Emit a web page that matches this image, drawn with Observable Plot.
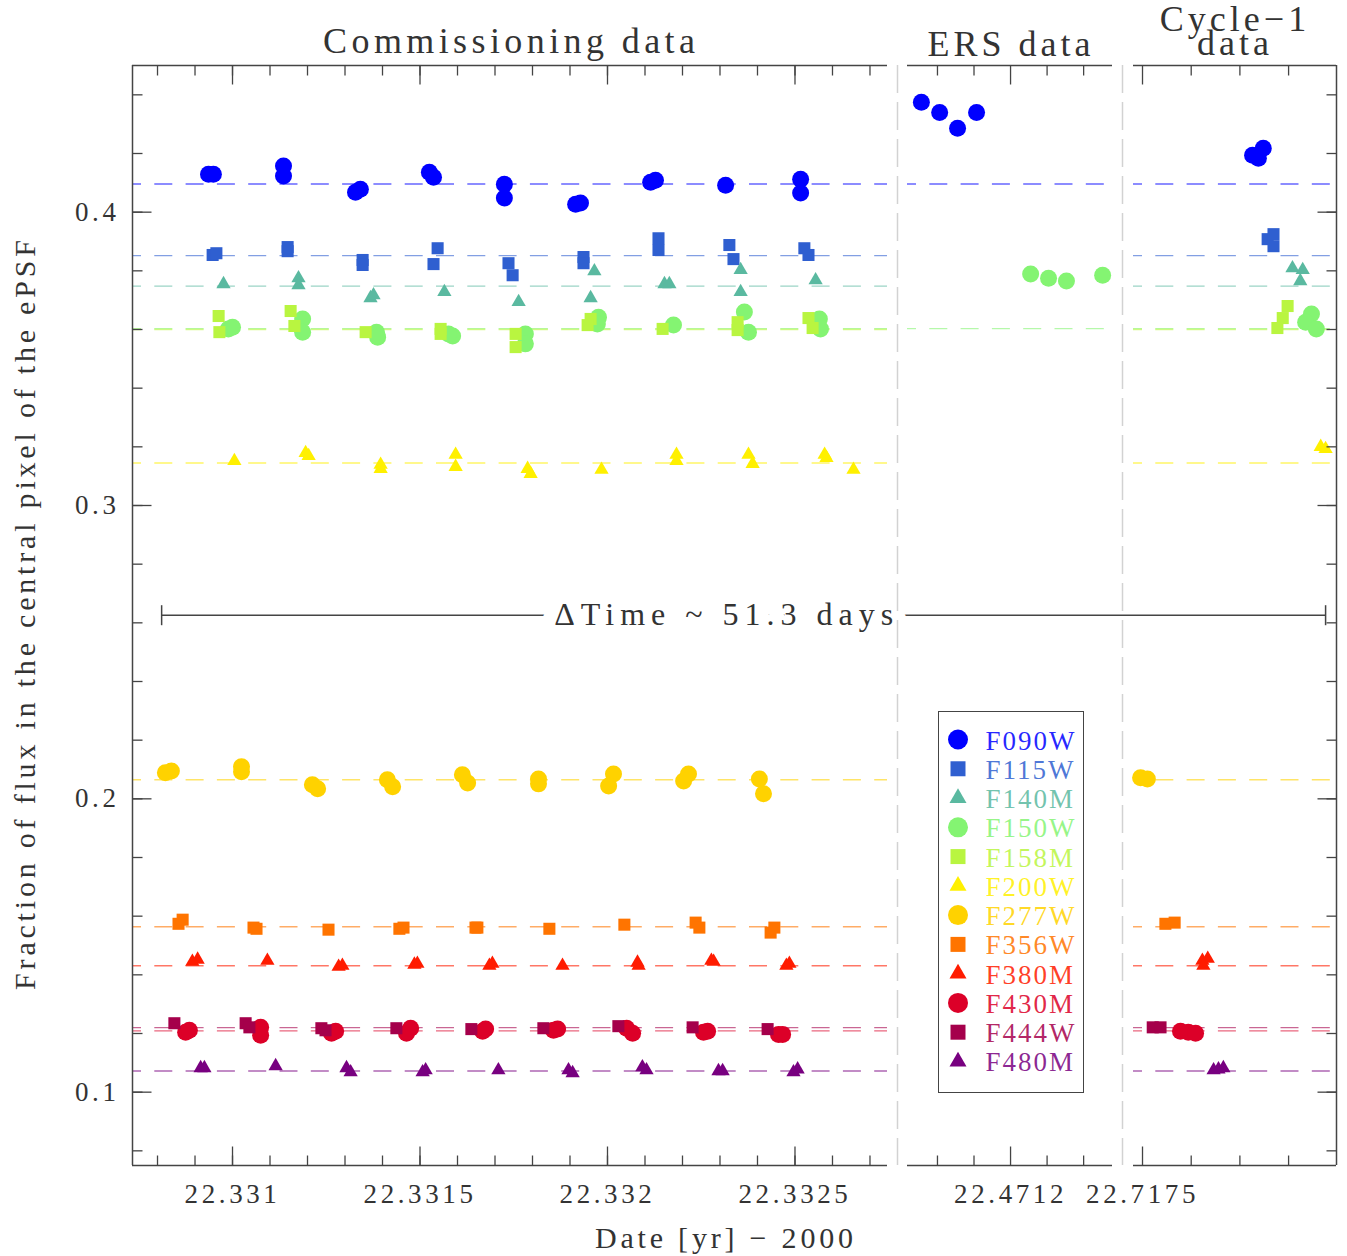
<!DOCTYPE html>
<html><head><meta charset="utf-8">
<script src="https://cdn.jsdelivr.net/npm/d3@7"></script>
<script src="https://cdn.jsdelivr.net/npm/@observablehq/plot@0.6"></script>
<style>
body{margin:0;background:#fff;}
#wrap{position:relative;width:1347px;height:1256px;overflow:hidden;background:#fff;}
.t{position:absolute;white-space:pre;font-family:"Liberation Serif",serif;color:#333;text-align:center;}
</style></head><body><div id="wrap"></div>
<script>
// ---------- data ----------
const filters = ["F090W","F115W","F140M","F150W","F158M","F200W","F277W","F356W","F380M","F430M","F444W","F480M"];
const filterColors = ["#0000ff","#2f5fd0","#5ab9a0","#84f472","#b9f540","#fff000","#ffd200","#ff7400","#ff1c00","#dc0028","#a5004b","#780080"];
const filterSymbols = ["circle","square","triangle","circle","square","triangle","circle","square","triangle","circle","square","triangle"];
const refLevels = [0.4096,0.3852,0.3748,0.3603,0.3600,0.3145,0.2065,0.1564,0.1431,0.1209,0.1220,0.1072];

const f090w = [[22.330936,0.4129],[22.330949,0.4129],[22.331136,0.4157],[22.331136,0.4123],[22.331328,0.4068],[22.331341,0.4078],[22.331525,0.4136],[22.331536,0.4119],[22.331725,0.4095],[22.331725,0.4048],[22.331915,0.4027],[22.331928,0.4031],[22.332115,0.4102],[22.332128,0.4109],[22.332315,0.4092],[22.332515,0.4112],[22.332515,0.4065],
  [22.470956,0.4375],[22.471006,0.4340],[22.471055,0.4286],[22.471107,0.4340],
  [22.717726,0.4194],[22.717738,0.4184],[22.717748,0.4218]];
const f115w = [[22.330947,0.3854],[22.330957,0.3860],[22.331147,0.3881],[22.331147,0.3867],[22.331347,0.3837],[22.331347,0.3820],[22.331547,0.3877],[22.331536,0.3823],[22.331736,0.3826],[22.331747,0.3785],[22.331936,0.3847],[22.331936,0.3826],[22.332136,0.3911],[22.332136,0.3871],[22.332325,0.3888],[22.332336,0.3840],[22.332525,0.3877],[22.332536,0.3854],
  [22.717757,0.3908],[22.717769,0.3925],[22.717769,0.3884]];
const f140m = [[22.330976,0.3755],[22.331176,0.3775],[22.331176,0.3751],[22.331368,0.3707],[22.331376,0.3717],[22.331565,0.3728],[22.331763,0.3694],[22.331965,0.3799],[22.331955,0.3707],[22.332152,0.3755],[22.332165,0.3755],[22.332355,0.3803],[22.332355,0.3728],[22.332555,0.3768],
  [22.717808,0.3809],[22.717829,0.3803],[22.717824,0.3765]];
const f150w = [[22.330989,0.3602],[22.331000,0.3608],[22.331187,0.3636],[22.331187,0.3591],[22.331384,0.3591],[22.331387,0.3574],[22.331587,0.3578],[22.331576,0.3585],[22.331781,0.3585],[22.331781,0.3551],[22.331976,0.3642],[22.331973,0.3619],[22.332176,0.3615],[22.332365,0.3660],[22.332376,0.3591],[22.332565,0.3636],[22.332568,0.3602],
  [22.471255,0.3789],[22.471304,0.3775],[22.471353,0.3765],[22.471452,0.3785],
  [22.717847,0.3653],[22.717835,0.3625],[22.717857,0.3602]];
const f158m = [[22.330963,0.3646],[22.330965,0.3591],[22.331155,0.3663],[22.331165,0.3612],[22.331355,0.3591],[22.331555,0.3585],[22.331555,0.3602],[22.331755,0.3585],[22.331755,0.3540],[22.331955,0.3636],[22.331947,0.3615],[22.332147,0.3602],[22.332347,0.3625],[22.332347,0.3598],[22.332536,0.3639],[22.332547,0.3605],
  [22.717798,0.3680],[22.717788,0.3639],[22.717777,0.3605]];
const f200w = [[22.331005,0.3152],[22.331195,0.3179],[22.331203,0.3169],[22.331395,0.3139],[22.331395,0.3125],[22.331595,0.3173],[22.331595,0.3132],[22.331787,0.3125],[22.331795,0.3108],[22.331984,0.3122],[22.332184,0.3173],[22.332184,0.3152],[22.332376,0.3173],[22.332387,0.3142],[22.332579,0.3173],[22.332584,0.3162],[22.332656,0.3122],
  [22.717866,0.3200],[22.717876,0.3193]];
const f277w = [[22.330821,0.2089],[22.330837,0.2095],[22.331024,0.2109],[22.331024,0.2092],[22.331213,0.2048],[22.331227,0.2034],[22.331413,0.2065],[22.331427,0.2041],[22.331613,0.2082],[22.331627,0.2054],[22.331816,0.2068],[22.331816,0.2051],[22.332016,0.2085],[22.332003,0.2044],[22.332216,0.2085],[22.332203,0.2061],[22.332405,0.2068],[22.332416,0.2017],
  [22.717496,0.2072],[22.717510,0.2068]];
const f356w = [[22.330856,0.1574],[22.330867,0.1588],[22.331056,0.1561],[22.331064,0.1557],[22.331256,0.1554],[22.331445,0.1557],[22.331456,0.1561],[22.331648,0.1561],[22.331653,0.1561],[22.331845,0.1557],[22.332045,0.1571],[22.332235,0.1578],[22.332245,0.1561],[22.332435,0.1544],[22.332445,0.1561],
  [22.717547,0.1574],[22.717566,0.1578]];
const f380m = [[22.330893,0.1445],[22.330907,0.1452],[22.331093,0.1448],[22.331283,0.1428],[22.331293,0.1431],[22.331485,0.1435],[22.331493,0.1438],[22.331685,0.1431],[22.331693,0.1438],[22.331880,0.1431],[22.332080,0.1442],[22.332083,0.1431],[22.332277,0.1448],[22.332283,0.1445],[22.332477,0.1431],[22.332485,0.1438],
  [22.717623,0.1448],[22.717634,0.1455],[22.717625,0.1431]];
const f430m = [[22.330875,0.1204],[22.330885,0.1211],[22.331075,0.1221],[22.331075,0.1194],[22.331264,0.1201],[22.331275,0.1208],[22.331464,0.1201],[22.331475,0.1218],[22.331667,0.1208],[22.331675,0.1215],[22.331856,0.1211],[22.331867,0.1215],[22.332051,0.1218],[22.332067,0.1201],[22.332256,0.1204],[22.332267,0.1208],[22.332456,0.1197],[22.332467,0.1197],
  [22.717578,0.1208],[22.717594,0.1204],[22.717609,0.1201]];
const f444w = [[22.330845,0.1235],[22.331035,0.1235],[22.331045,0.1221],[22.331237,0.1218],[22.331248,0.1211],[22.331437,0.1218],[22.331637,0.1215],[22.331829,0.1218],[22.332029,0.1225],[22.332227,0.1221],[22.332427,0.1215],
  [22.717521,0.1221],[22.717537,0.1221]];
const f480m = [[22.330915,0.1082],[22.330925,0.1082],[22.331115,0.1089],[22.331304,0.1082],[22.331315,0.1068],[22.331507,0.1068],[22.331515,0.1075],[22.331709,0.1075],[22.331896,0.1075],[22.331907,0.1065],[22.332093,0.1085],[22.332104,0.1075],[22.332296,0.1072],[22.332307,0.1072],[22.332496,0.1068],[22.332507,0.1078],
  [22.717646,0.1075],[22.717656,0.1078],[22.717666,0.1082]];
const series = [f090w,f115w,f140m,f150w,f158m,f200w,f277w,f356w,f380m,f430m,f444w,f480m];

const yDomain = [0.075, 0.45];
const yMajorTicks = [0.1, 0.2, 0.3, 0.4];
const yMinorTicks = [0.08,0.10,0.12,0.14,0.16,0.18,0.20,0.22,0.24,0.26,0.28,0.30,0.32,0.34,0.36,0.38,0.40,0.42,0.44];

const commDomain = [22.3307333, 22.3327467];
const commMajorTicks = [22.331, 22.3315, 22.332, 22.3325];
const commMinorTicks = [22.3308,22.3309,22.3310,22.3311,22.3312,22.3313,22.3314,22.3315,22.3316,22.3317,22.3318,22.3319,22.3320,22.3321,22.3322,22.3323,22.3324,22.3325,22.3326,22.3327];
const ersDomain = [22.470918, 22.471479];
const ersMajorTicks = [22.4712];
const ersMinorTicks = [22.4710, 22.4711, 22.4713, 22.4714];
const cycDomain = [22.7174815, 22.7178984];
const cycMajorTicks = [22.7175];
const cycMinorTicks = [22.7176, 22.7177, 22.7178];

const deltaStart = 22.330811;
const deltaEnd = 22.717876;
const deltaLevel = 0.2626;
const deltaLabelDate = 22.332318;
const deltaLabel = "ΔTime ~ 51.3 days";

// ---------- styling helpers ----------
const axisColor = "#444";
const symbolR = {circle: 8.5, square: 6.8, triangle: 5.3};
const tickMark = (ux, uy) => ({draw(ctx, size) { const r = Math.sqrt(size / Math.PI); ctx.moveTo(0, 0); ctx.lineTo(ux * r, uy * r); }});
const capMark = {draw(ctx, size) { const r = Math.sqrt(size / Math.PI); ctx.moveTo(0, -r); ctx.lineTo(0, r); }};
const fmt = d => String(+d.toFixed(4));
const wrap = document.getElementById("wrap");

function buildPanel(cfg) {
  const {domain, major, minor, width, marginLeft, marginRight, left, extraMarks = [], frameLeft, frameRight, yLabels} = cfg;
  const inPanel = p => p[0] >= domain[0] && p[0] <= domain[1];
  const marks = [];
  series.forEach((s, i) => {
    if (s.some(inPanel)) marks.push(Plot.ruleY([refLevels[i]], {stroke: filterColors[i], strokeOpacity: 0.6, strokeWidth: 1.4, strokeDasharray: "18,13.3", strokeDashoffset: 9}));
  });
  marks.push(...extraMarks);
  series.forEach((s, i) => {
    marks.push(Plot.dot(s.filter(inPanel), {x: d => d[0], y: d => d[1], symbol: filterSymbols[i], r: symbolR[filterSymbols[i]], fill: filterColors[i]}));
  });
  marks.push(Plot.ruleY(yDomain, {stroke: axisColor, strokeWidth: 1.5}));
  if (frameLeft) marks.push(Plot.ruleX([domain[0]], {stroke: axisColor, strokeWidth: 1.5}));
  if (frameRight) marks.push(Plot.ruleX([domain[1]], {stroke: axisColor, strokeWidth: 1.5}));
  const tk = {stroke: axisColor, strokeWidth: 1.3, fill: "none"};
  for (const [ticks, len] of [[minor, 10], [major, 19]]) {
    marks.push(Plot.dot(ticks, {x: d => d, y: yDomain[0], symbol: tickMark(0, -1), r: len, ...tk}));
    marks.push(Plot.dot(ticks, {x: d => d, y: yDomain[1], symbol: tickMark(0, 1), r: len, ...tk}));
  }
  for (const [ticks, len] of [[yMinorTicks, 10], [yMajorTicks, 19]]) {
    if (frameLeft) marks.push(Plot.dot(ticks, {x: domain[0], y: d => d, symbol: tickMark(1, 0), r: len, ...tk}));
    if (frameRight) marks.push(Plot.dot(ticks, {x: domain[1], y: d => d, symbol: tickMark(-1, 0), r: len, ...tk}));
  }
  marks.push(Plot.axisX({anchor: "bottom", ticks: major, tickSize: 0, tickPadding: 18, tickFormat: fmt, label: null}));
  if (yLabels) marks.push(Plot.axisY({anchor: "left", ticks: yMajorTicks, tickSize: 0, tickPadding: 13, tickFormat: d => d.toFixed(1), label: null}));
  const svg = Plot.plot({
    width, height: 1256, marginLeft, marginRight, marginTop: 65, marginBottom: 91,
    x: {domain},
    y: yLabels ? {domain: yDomain} : {domain: yDomain, axis: null},
    style: {fontFamily: "'Liberation Serif', serif", fontSize: "27px", letterSpacing: "3.6px", color: "#333", background: "transparent", overflow: "visible"},
    marks
  });
  svg.style.position = "absolute";
  svg.style.left = left + "px";
  svg.style.top = "0px";
  svg.style.maxWidth = "none";
  wrap.appendChild(svg);
  return svg;
}

const line = {stroke: axisColor, strokeWidth: 1.5};
const sep = {stroke: "#d2d2d2", strokeWidth: 1.5, strokeDasharray: "28,9"};

const p1 = buildPanel({
  domain: commDomain, major: commMajorTicks, minor: commMinorTicks,
  width: 907, marginLeft: 132, marginRight: 20, left: 0, frameLeft: true, yLabels: true,
  extraMarks: [
    Plot.ruleY([deltaLevel], {x1: deltaStart, x2: commDomain[1], insetRight: -20, ...line}),
    Plot.dot([deltaStart], {x: d => d, y: deltaLevel, symbol: capMark, r: 10, ...line, fill: "none"}),
    Plot.text([deltaLabel], {x: deltaLabelDate, y: deltaLevel, text: d => d, fontSize: 32, fill: "#333", stroke: "white", strokeWidth: 28, paintOrder: "stroke"})
  ]
});
d3.select(p1).selectAll('g[aria-label="text"] text').style("letter-spacing", "6px");

buildPanel({
  domain: ersDomain, major: ersMajorTicks, minor: ersMinorTicks,
  width: 236, marginLeft: 10, marginRight: 21, left: 897,
  extraMarks: [
    Plot.ruleX([ersDomain[0]], {dx: -10, ...sep}),
    Plot.ruleX([ersDomain[1]], {dx: 10, ...sep}),
    Plot.ruleY([deltaLevel], {insetRight: -21, ...line})
  ]
});

buildPanel({
  domain: cycDomain, major: cycMajorTicks, minor: cycMinorTicks,
  width: 225, marginLeft: 11, marginRight: 11, left: 1122, frameRight: true,
  extraMarks: [
    Plot.ruleY([deltaLevel], {x1: cycDomain[0], x2: deltaEnd, ...line}),
    Plot.dot([deltaEnd], {x: d => d, y: deltaLevel, symbol: capMark, r: 10, ...line, fill: "none"})
  ]
});

// ---------- titles ----------
function addText(str, cx, baseline, size, ls, opts = {}) {
  const d = document.createElement("div");
  d.className = "t";
  d.textContent = str;
  const lh = opts.lineHeight || size;
  d.style.fontSize = size + "px";
  d.style.lineHeight = lh + "px";
  d.style.letterSpacing = ls + "px";
  d.style.width = "1000px";
  d.style.paddingLeft = ls + "px";
  d.style.boxSizing = "border-box";
  d.style.left = (cx - 500) + "px";
  if (opts.rotate) {
    d.style.top = (baseline - size / 2) + "px";
    d.style.transform = "rotate(-90deg)";
  } else {
    // first baseline sits at top + (lh - 1.107*size)/2 + 0.891*size
    d.style.top = (baseline - ((lh - 1.107 * size) / 2 + 0.891 * size)) + "px";
  }
  wrap.appendChild(d);
}
addText("Commissioning data", 509, 53, 36, 4.4);
addText("ERS data", 1009, 56, 36, 4);
addText("Cycle\u22121\ndata", 1233, 31, 36, 4, {lineHeight: 24});
addText("Date [yr] \u2212 2000", 724, 1248, 30, 3.8);
addText("Fraction of flux in the central pixel of the ePSF", 25, 615, 30, 3.8, {rotate: true});

// ---------- legend ----------
const lg = document.createElement("div");
Object.assign(lg.style, {position: "absolute", left: "938px", top: "711px", width: "146px", height: "382px", border: "1.5px solid #444", boxSizing: "border-box", background: "#fff"});
const legendSize = {circle: 314, square: 225, triangle: 125};
const d3sym = {circle: d3.symbolCircle, square: d3.symbolSquare, triangle: d3.symbolTriangle};
const lsvg = d3.create("svg").attr("width", 143).attr("height", 379).style("display", "block");
filters.forEach((f, i) => {
  const cy = 27.5 + i * 29.27;
  lsvg.append("path").attr("transform", `translate(19,${cy})`)
    .attr("d", d3.symbol(d3sym[filterSymbols[i]], legendSize[filterSymbols[i]])())
    .attr("fill", filterColors[i]);
  lsvg.append("text").attr("x", 46.5).attr("y", cy + 10).text(f)
    .attr("fill", filterColors[i]).attr("fill-opacity", 0.85)
    .style("font-family", "'Liberation Serif', serif").style("font-size", "27px").style("letter-spacing", "2px");
});
lg.appendChild(lsvg.node());
wrap.appendChild(lg);
</script></body></html>
